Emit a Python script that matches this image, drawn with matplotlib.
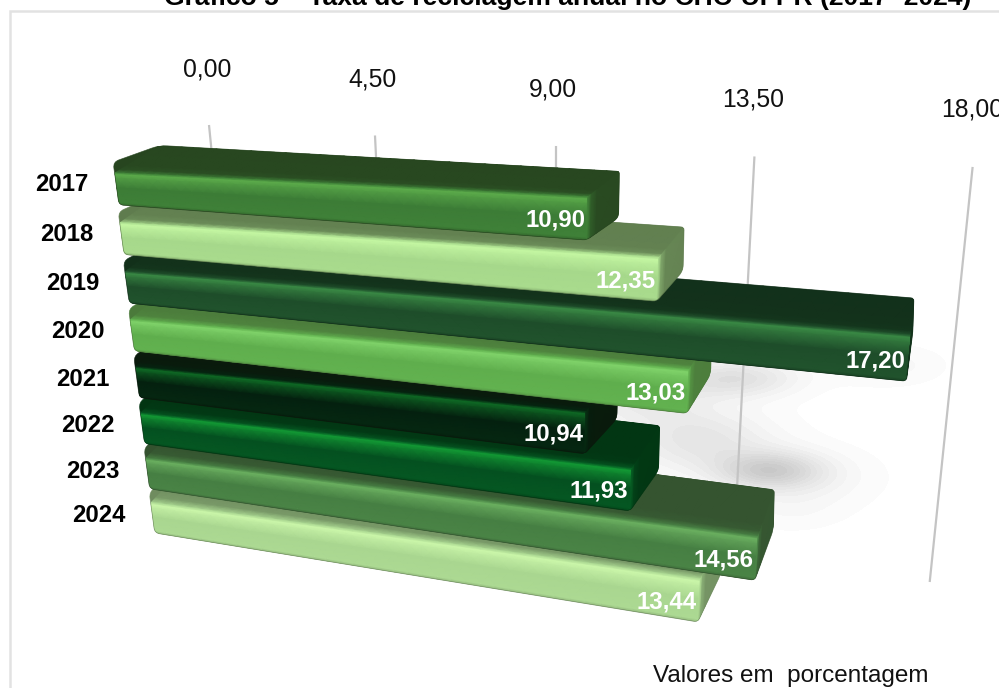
import numpy as np
import matplotlib
matplotlib.use("Agg")
import matplotlib.pyplot as plt
from matplotlib.colors import LinearSegmentedColormap
from matplotlib.path import Path
from matplotlib.patches import PathPatch

plt.rcParams['font.family'] = ['Liberation Sans', 'DejaVu Sans']

# ---- data ----
years = ['2017', '2018', '2019', '2020', '2021', '2022', '2023', '2024']
values = [10.90, 12.35, 17.20, 13.03, 10.94, 11.93, 14.56, 13.44]
value_labels = ['10,90', '12,35', '17,20', '13,03', '10,94', '11,93', '14,56', '13,44']
ticks = [0.0, 4.5, 9.0, 13.5, 18.0]
tick_labels = ['0,00', '4,50', '9,00', '13,50', '18,00']
title = 'Gráfico 5 – Taxa de reciclagem anual no CHC-UFPR (2017- 2024)'
note = 'Valores em  porcentagem'

# ---- styles: (top face, front face, highlight) ----
face_top = ['#27451f', '#5f7c4e', '#12301a', '#4b7a3b', '#0a1a0c', '#023512', '#34522f', '#6f8c5f']
face_front = ['#3c7c36', '#a6d88b', '#1e4d2a', '#5fae4d', '#04200f', '#045020', '#467f43', '#a9d690']
face_high = ['#5cab4b', '#c4f7a2', '#3a8a45', '#80d36a', '#0f6a25', '#139a35', '#6bb060', '#cbf7aa']
label_dx = [-2, -2, -3, -1, 0]


# ---- oblique projection of the 3D scene (pixel coordinates) ----
def x_fb(c, v):
    return 119 + 5.1 * c + v * (37 - 0.55 * c + 0.54 * v)

def y_fb(c, v):
    x0 = 119 + 5.1 * c
    return 205 + 50 * c - 0.45 * c * c + (x_fb(c, v) - x0) * (0.075 + 0.0127 * c)

def front_h(c, v):
    return 37 * (1 + 0.014 * v) - 0.3 * c

def front_bottom(c, v):
    return np.array([x_fb(c, v), y_fb(c, v)])

def front_top(c, v):
    x = x_fb(c, v)
    return np.array([x - 6.5 + 0.013 * x, y_fb(c, v) - front_h(c, v)])

def back_top(c, v):
    ft = front_top(c, v)
    depth = (21 + 3.6 * c - 0.18 * c * c) * (1 + 0.022 * v)
    return np.array([(x_fb(c, v) + 87) / 1.087, ft[1] - depth])

def back_bottom(c, v):
    bt = back_top(c, v)
    dx = bt[0] - x_fb(c, v)
    return np.array([bt[0] - 1, bt[1] + 30 + 0.5 * dx])


def rounded(points, r):
    pts = [np.asarray(p, float) for p in points]
    n = len(pts)
    verts, codes = [], []
    for i in range(n):
        p, a, b = pts[i], pts[i - 1], pts[(i + 1) % n]
        rr = r[i]
        p1 = p + (a - p) / np.linalg.norm(a - p) * rr
        p2 = p + (b - p) / np.linalg.norm(b - p) * rr
        verts.append(p1)
        codes.append(Path.MOVETO if i == 0 else Path.LINETO)
        verts += [p, p2]
        codes += [Path.CURVE3, Path.CURVE3]
    verts.append(verts[0])
    codes.append(Path.CLOSEPOLY)
    return Path(np.array(verts), codes)


fig = plt.figure(figsize=(9.99, 6.88), dpi=100)
ax = fig.add_axes([0, 0, 1, 1])
ax.set_xlim(0, 999)
ax.set_ylim(688, 0)
ax.axis('off')

# frame
ax.plot([10, 10, 999], [688, 11, 11], color='#e2e2e2', lw=1.8, solid_joinstyle='miter')

# soft shadows on the wall
blobs = [(735, 378, 42, 13, .12), (700, 440, 50, 22, .10), (768, 470, 36, 13, .17),
         (805, 478, 46, 20, .04), (885, 365, 36, 13, .035), (790, 510, 35, 14, .02),
         (640, 395, 45, 20, .08)]
yy, xx = np.mgrid[300:600, 560:960]
dark = np.zeros(xx.shape)
for bx, by, sx, sy, a in blobs:
    dark += a * np.exp(-((xx - bx) / sx) ** 2 / 2 - ((yy - by) / sy) ** 2 / 2)
rgba = np.zeros(xx.shape + (4,))
rgba[..., 3] = np.clip(np.round(dark * 60) / 60, 0, .5)
ax.imshow(rgba, extent=(560, 960, 600, 300), zorder=1, aspect='auto', interpolation='bilinear')
ax.set_xlim(0, 999)
ax.set_ylim(688, 0)

# gridlines and tick labels
for v, lab, ldx in zip(ticks, tick_labels, label_dx):
    xt = 209 + 35.39 * v + 0.313 * v * v + 0.00432 * v ** 3
    yt = 125 + 2.33 * v
    yb = 582 - 9 * (18 - v)
    xb = xt + (0.1 - 0.0113 * v) * (yb - yt)
    ax.plot([xt, xb], [yt, yb], color='#c4c4c4', lw=1.6, zorder=2, solid_capstyle='butt')
    ax.text(xt + ldx, yt - 55.5 - 0.12 * v, lab, ha='center', va='center', fontsize=17.8,
            color='#111111', zorder=2, clip_on=False)

# category labels
for c, y in enumerate(years):
    ax.text(62 + 5.2 * c, 184.5 + 50.5 * c - 0.45 * c * c, y, ha='center', va='center',
            fontsize=17.2, fontweight='bold', color='black')

# profile across the bar: back edge -> front top -> front bottom
t_nodes = np.array([0, .34, .42, .47, .50, .56, .72, .97, 1.0])
c_nodes = np.array([.02, .03, .10, .55, 1.0, .82, .50, .55, .30])
t_top = .48

for c in range(len(values) - 1, -1, -1):
    v = values[c]
    cmap = LinearSegmentedColormap.from_list(
        'bar', [(0, face_top[c]), (.5, face_front[c]), (1, face_high[c])])
    s = np.linspace(0, 1, 40)
    X = np.zeros((len(t_nodes), len(s)))
    Y = np.zeros_like(X)
    for j, sj in enumerate(s):
        u = sj * v
        bt = back_top(c, u - 0.9 * (1 - sj) ** 3)
        ft = front_top(c, u) + np.array([0, 5.5 * (1 - sj)])
        fb = front_bottom(c, u)
        for i, t in enumerate(t_nodes):
            if t <= t_top:
                p = bt + (ft - bt) * t / t_top
            else:
                p = ft + (fb - ft) * (t - t_top) / (1 - t_top)
            X[i, j], Y[i, j] = p
    C = np.tile(c_nodes[:, None], (1, len(s)))

    corner = front_top(c, 0) + np.array([-1, -6])
    outline = rounded([corner, back_top(c, -0.9), back_top(c, v), back_bottom(c, v),
                       front_bottom(c, v), front_bottom(c, 0)], [6, 8, 3, 6, 4, 5])
    clip = PathPatch(outline, transform=ax.transData, fc=face_top[c], ec='none')
    ax.add_patch(clip)
    zo = 10 + (len(values) - c) * 2
    clip.set_zorder(zo)
    m = ax.pcolormesh(X, Y, C, cmap=cmap, vmin=0, vmax=1, shading='gouraud', zorder=zo)
    m.set_clip_path(clip)

    # right end face
    ft, fb, bt, bb = front_top(c, v), front_bottom(c, v), back_top(c, v), back_bottom(c, v)
    w = np.array([0, .12, .3, 1.0])
    XR = np.array([[ft[0] + (bt[0] - ft[0]) * a for a in w], [fb[0] + (bb[0] - fb[0]) * a for a in w]])
    YR = np.array([[ft[1] + (bt[1] - ft[1]) * a for a in w], [fb[1] + (bb[1] - fb[1]) * a for a in w]])
    CR = np.array([[.62, .22, .06, .04], [.55, .22, .06, .04]])
    mr = ax.pcolormesh(XR, YR, CR, cmap=cmap, vmin=0, vmax=1, shading='gouraud', zorder=zo + .2)
    mr.set_clip_path(clip)

    # thin dark contour softening the clip edge
    ax.add_patch(PathPatch(outline, fc='none', ec=face_top[c], lw=.5, alpha=.8, zorder=zo + .3))

    # value label
    ax.text(fb[0] - 31, fb[1] - 20, value_labels[c], ha='center', va='center', fontsize=17.3,
            fontweight='bold', color='white', zorder=zo + .5)

# title (cut by the top of the image) and note
ax.text(567.5, 5.5, title, ha='center', va='baseline', fontsize=19.05, fontweight='bold',
        color='black', clip_on=False)
ax.text(790.5, 676, note, ha='center', va='center', fontsize=17.5, color='#111111')

fig.savefig('out.png', dpi=100)
